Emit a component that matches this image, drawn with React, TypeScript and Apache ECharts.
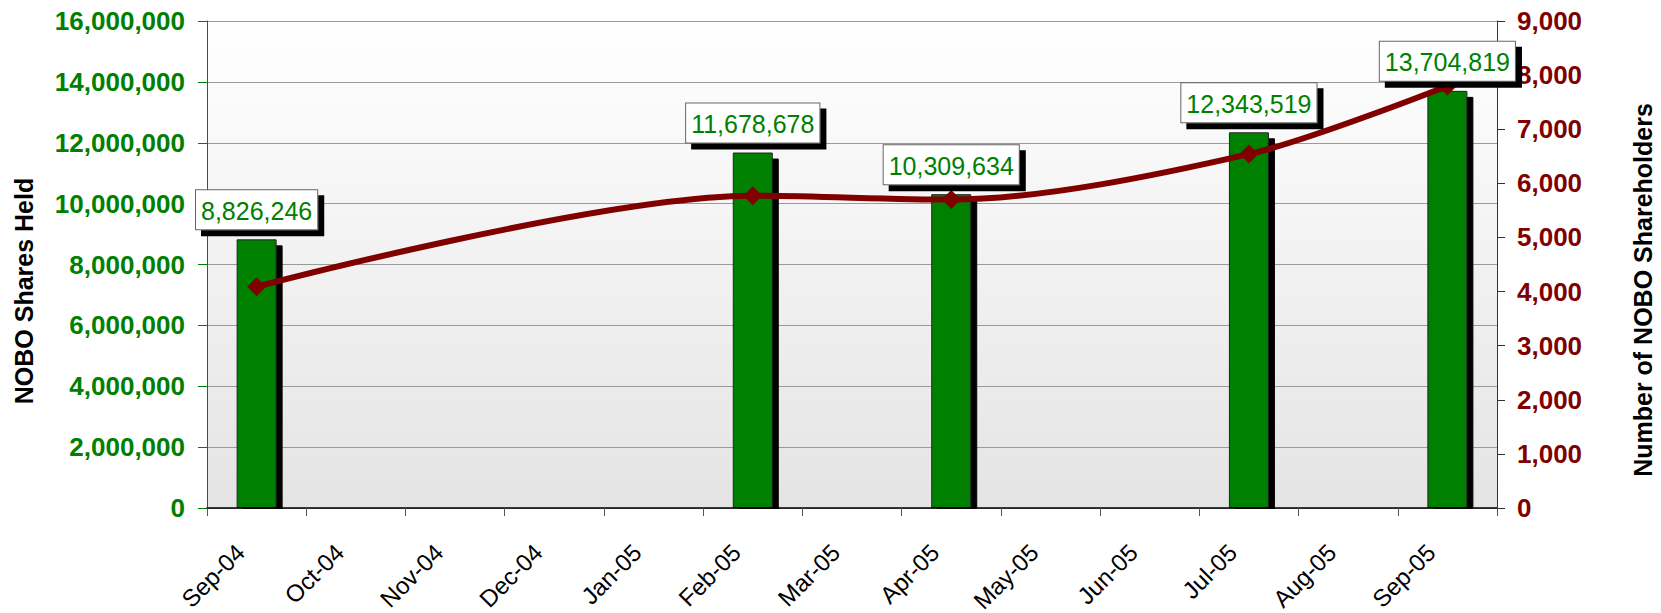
import React, { useEffect, useRef } from "react";
import * as echarts from "echarts";

const categories = ["Sep-04", "Oct-04", "Nov-04", "Dec-04", "Jan-05", "Feb-05", "Mar-05", "Apr-05", "May-05", "Jun-05", "Jul-05", "Aug-05", "Sep-05"];
const sharesHeld = [8826246, null, null, null, null, 11678678, null, 10309634, null, null, 12343519, null, 13704819];
const shareholders = [4090, null, null, null, null, 5770, null, 5700, null, null, 6540, null, 7800];
const leftAxisName = "NOBO Shares Held";
const rightAxisName = "Number of NOBO Shareholders";

const GREEN = "#008000";
const RED = "#800000";
const FONT = "Arial, 'Liberation Sans', sans-serif";

const fmt = (v: number) => Math.round(v).toLocaleString("en-US");

export default function App() {
  const ref = useRef<HTMLDivElement>(null);
  useEffect(() => {
    document.body.style.margin = "0";
    const chart = echarts.init(ref.current!, null, { renderer: "svg" });
    chart.setOption({
      animation: false,
      backgroundColor: "#ffffff",
      textStyle: { fontFamily: FONT },
      grid: {
        left: 207,
        right: 164,
        top: 21,
        bottom: 105,
        containLabel: false,
        outerBoundsMode: "none",
        show: true,
        borderWidth: 0,
        backgroundColor: new echarts.graphic.LinearGradient(0, 0, 0, 1, [
          { offset: 0, color: "#ffffff" },
          { offset: 1, color: "#e4e4e4" },
        ]),
      },
      graphic: [
        {
          type: "rect",
          z: 5,
          shape: { x: 207, y: 509, width: 1292, height: 8 },
          style: { fill: "#ffffff" },
        },
        {
          type: "text",
          x: 24,
          y: 291,
          rotation: Math.PI / 2,
          style: { text: leftAxisName, font: `bold 25px ${FONT}`, fill: "#000", align: "center", verticalAlign: "middle" },
        },
        {
          type: "text",
          x: 1643,
          y: 290,
          rotation: Math.PI / 2,
          style: { text: rightAxisName, font: `bold 25px ${FONT}`, fill: "#000", align: "center", verticalAlign: "middle" },
        },
      ],
      xAxis: {
        type: "category",
        data: categories,
        boundaryGap: true,
        z: 10,
        axisLine: { lineStyle: { color: "#000", width: 1.5 } },
        axisTick: { show: true, length: 8, lineStyle: { color: "#555" }, alignWithLabel: false },
        axisLabel: {
          rotate: 45,
          interval: 0,
          margin: 24,
          color: "#000",
          fontSize: 24,
          fontFamily: FONT,
          padding: [0, 23, 0, 0],
        },
        splitLine: { show: false },
      },
      yAxis: [
        {
          type: "value",
          min: 0,
          max: 16000000,
          interval: 2000000,
          position: "left",
          axisLine: { show: true, lineStyle: { color: GREEN, width: 1 } },
          axisTick: { show: true, length: 9, lineStyle: { color: GREEN } },
          axisLabel: { color: GREEN, fontSize: 26, fontWeight: "bold", fontFamily: FONT, margin: 22, formatter: (v: number) => fmt(v) },
          splitLine: { show: true, lineStyle: { color: "#9a9a9a", width: 1 } },
        },
        {
          type: "value",
          min: 0,
          max: 9000,
          interval: 1000,
          position: "right",
          axisLine: { show: true, lineStyle: { color: "#333", width: 1 } },
          axisTick: { show: true, length: 8, lineStyle: { color: "#333" } },
          axisLabel: { color: RED, fontSize: 26, fontWeight: "bold", fontFamily: FONT, margin: 20, formatter: (v: number) => fmt(v) },
          splitLine: { show: false },
        },
      ],
      series: [
        {
          type: "bar",
          yAxisIndex: 0,
          data: sharesHeld,
          barWidth: 40,
          itemStyle: {
            color: GREEN,
            borderColor: "#222",
            borderWidth: 1,
            shadowColor: "#000",
            shadowBlur: 0,
            shadowOffsetX: 6,
            shadowOffsetY: 6,
          },
          z: 2,
        },
        {
          type: "line",
          yAxisIndex: 1,
          data: shareholders,
          connectNulls: true,
          smooth: 0.3,
          symbol: "diamond",
          symbolSize: 19,
          lineStyle: { color: RED, width: 6 },
          itemStyle: { color: RED },
          z: 3,
        },
        {
          type: "bar",
          yAxisIndex: 0,
          data: sharesHeld,
          barWidth: 40,
          barGap: "-100%",
          silent: true,
          itemStyle: { color: "rgba(0,0,0,0)", borderWidth: 0 },
          label: {
            show: true,
            position: "top",
            distance: 10,
            color: GREEN,
            fontSize: 25,
            fontFamily: FONT,
            backgroundColor: "#ffffff",
            borderColor: "#666",
            borderWidth: 1,
            padding: [8, 5, 6, 5],
            shadowColor: "#000",
            shadowBlur: 0,
            shadowOffsetX: 6,
            shadowOffsetY: 6,
            formatter: (p: any) => fmt(p.value),
          },
          z: 6,
        },
      ],
    });
    return () => chart.dispose();
  }, []);
  return <div ref={ref} style={{ width: 1661, height: 613 }} />;
}
